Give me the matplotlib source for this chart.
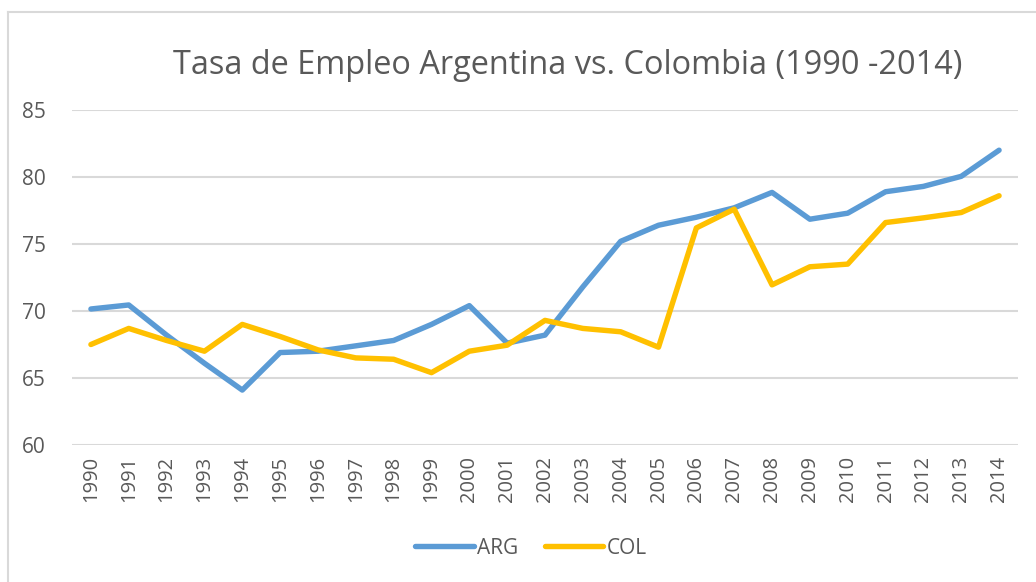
import matplotlib
matplotlib.use('Agg')
import matplotlib.pyplot as plt
from matplotlib.lines import Line2D

years = [str(y) for y in range(1990, 2015)]
arg = [70.15, 70.45, 68.2, 66.1, 64.1, 66.9, 67.0, 67.4, 67.8, 69.0, 70.4, 67.6, 68.2,
       71.8, 75.2, 76.4, 77.0, 77.7, 78.85, 76.85, 77.3, 78.9, 79.3, 80.05, 82.0]
col = [67.5, 68.7, 67.8, 67.0, 69.0, 68.1, 67.1, 66.5, 66.4, 65.4, 67.0, 67.45, 69.3,
       68.7, 68.45, 67.3, 76.2, 77.6, 71.95, 73.3, 73.5, 76.6, 76.95, 77.35, 78.6]
yticks = [60, 65, 70, 75, 80, 85]

gris = '#595959'
plt.rcParams['font.family'] = ['Open Sans', 'DejaVu Sans']

fig = plt.figure(figsize=(10.36, 5.82), dpi=100)
ax = fig.add_axes([72/1036, 1-445/582, 946/1036, 335/582])

x = list(range(len(years)))
ax.plot(x, arg, color='#5B9BD5', lw=3.9, solid_capstyle='round', label='ARG', zorder=3)
ax.plot(x, col, color='#FFC000', lw=3.9, solid_capstyle='round', label='COL', zorder=3)

ax.set_xlim(-0.5, len(years)-0.5)
ax.set_ylim(60, 85)
ax.set_yticks(yticks)
ax.set_xticks(x)
ax.set_xticklabels(years, rotation=90, fontsize=14.5, color=gris)
ax.tick_params(axis='y', labelsize=15, colors=gris, length=0, pad=19)
ax.tick_params(axis='x', length=0, pad=8)
ax.grid(axis='y', color='#D9D9D9', lw=1.5)
ax.set_axisbelow(True)
for s in ax.spines.values():
    s.set_visible(False)

fig.text(568/1036, 1-65/582, 'Tasa de Empleo Argentina vs. Colombia (1990 -2014)',
         ha='center', va='center', fontsize=23.4, color=gris)

ax.legend(loc='center', bbox_to_anchor=(531/1036, 1-548/582), bbox_transform=fig.transFigure,
          ncol=2, frameon=False, fontsize=15, labelcolor=gris, handlelength=2.8,
          handletextpad=0.15, columnspacing=1.3)

# cadre du graphique
fig.add_artist(Line2D([8/1036, 8/1036], [0, 1-12/582], color='#D9D9D9', lw=1.5))
fig.add_artist(Line2D([8/1036, 1], [1-12/582, 1-12/582], color='#D9D9D9', lw=1.5))

fig.savefig('out.png', dpi=100)
